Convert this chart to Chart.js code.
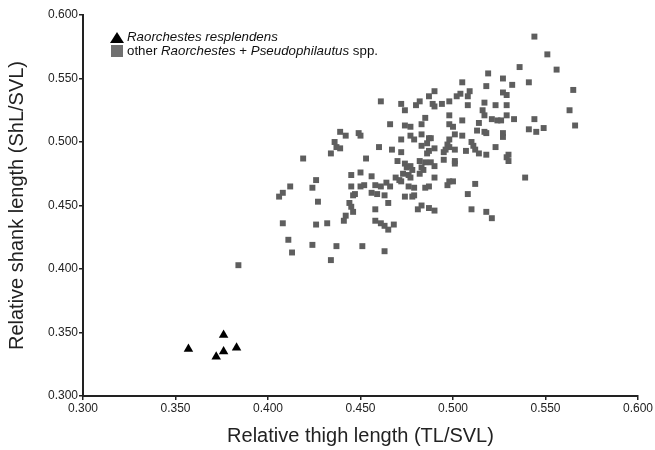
<!DOCTYPE html>
<html>
<head>
<meta charset="utf-8">
<script src="https://cdn.jsdelivr.net/npm/chart.js@4.4.0/dist/chart.umd.min.js"></script>
<style>
    html, body { margin: 0; padding: 0; background: #fff; }
    #wrap { position: relative; width: 655px; height: 450px; }
    #legend {
        position: absolute; left: 110px; top: 30px;
        font-family: 'Liberation Sans', Arial, sans-serif;
        font-size: 13.3px; color: #111; line-height: 14px;
    }
    .row { display: flex; align-items: center; white-space: nowrap; }
    .tri {
        width: 0; height: 0; margin-right: 3px;
        border-left: 7px solid transparent; border-right: 7px solid transparent;
        border-bottom: 11px solid #000;
    }
    .sq { width: 12px; height: 12px; background: #707070; margin-right: 4px; margin-left: 1px; }
    i { font-style: italic; }
</style>
</head>
<body>
<div id="wrap">
    <canvas id="scatterChart" width="655" height="450"></canvas>
    <div id="legend">
        <div class="row"><span class="tri"></span><i>Raorchestes resplendens</i></div>
        <div class="row"><span class="sq"></span>other&nbsp;<i>Raorchestes</i>&nbsp;+&nbsp;<i>Pseudophilautus</i>&nbsp;spp.</div>
    </div>
</div>
<script>
// Raorchestes resplendens
const thighTri = [0.357, 0.372, 0.376, 0.376, 0.383];
const shankTri = [0.337, 0.331, 0.335, 0.348, 0.338];

// other Raorchestes + Pseudophilautus spp.
const thighOther = [
    0.461,0.466,0.439,0.442,0.449,0.450,0.436,0.437,0.439,0.460,
    0.434,0.419,0.453,0.445,0.450,0.456,0.426,0.412,0.424,0.445,
    0.450,0.452,0.458,0.461,0.464,0.490,0.487,0.502,0.504,0.508,
    0.509,0.527,0.529,0.472,0.480,0.482,0.489,0.490,0.494,0.498,
    0.508,0.517,0.523,0.529,0.474,0.516,0.517,0.498,0.529,0.485,
    0.505,0.521,0.524,0.526,0.533,0.474,0.477,0.483,0.498,0.500,
    0.514,0.513,0.517,0.518,0.477,0.479,0.483,0.487,0.488,0.501,
    0.505,0.527,0.527,0.472,0.486,0.498,0.497,0.498,0.510,0.511,
    0.483,0.467,0.472,0.487,0.486,0.490,0.496,0.495,0.501,0.507,
    0.512,0.514,0.518,0.523,0.530,0.529,0.495,0.470,0.474,0.482,
    0.485,0.488,0.501,0.501,0.530,0.475,0.477,0.478,0.483,0.484,
    0.490,0.473,0.476,0.477,0.482,0.490,0.469,0.471,0.472,0.498,
    0.500,0.512,0.476,0.479,0.485,0.466,0.408,0.406,0.427,0.447,
    0.446,0.456,0.459,0.463,0.444,0.445,0.446,0.465,0.458,0.442,
    0.441,0.408,0.426,0.432,0.458,0.461,0.463,0.465,0.411,0.424,
    0.437,0.451,0.463,0.413,0.434,0.487,0.497,0.474,0.478,0.479,
    0.508,0.483,0.481,0.487,0.490,0.510,0.518,0.521,0.468,0.544,
    0.551,0.556,0.536,0.519,0.527,0.532,0.541,0.505,0.518,0.565,
    0.563,0.544,0.566,0.541,0.545,0.549,0.539,0.384
];
const shankOther = [
    0.532,0.514,0.508,0.505,0.507,0.505,0.500,0.496,0.495,0.496,
    0.491,0.487,0.487,0.474,0.476,0.473,0.470,0.465,0.464,0.465,
    0.465,0.466,0.466,0.465,0.468,0.540,0.536,0.536,0.538,0.536,
    0.540,0.539,0.537,0.530,0.529,0.532,0.530,0.528,0.530,0.532,
    0.529,0.531,0.529,0.529,0.525,0.525,0.521,0.521,0.521,0.519,
    0.517,0.518,0.517,0.517,0.518,0.513,0.512,0.514,0.514,0.512,
    0.515,0.509,0.508,0.507,0.505,0.502,0.506,0.503,0.503,0.506,
    0.505,0.507,0.504,0.502,0.499,0.502,0.498,0.496,0.500,0.497,
    0.497,0.494,0.492,0.493,0.491,0.495,0.494,0.492,0.494,0.493,
    0.494,0.491,0.490,0.496,0.490,0.488,0.486,0.485,0.483,0.485,
    0.484,0.484,0.485,0.483,0.485,0.480,0.481,0.478,0.480,0.478,
    0.481,0.475,0.474,0.472,0.475,0.472,0.472,0.470,0.469,0.469,
    0.469,0.467,0.465,0.464,0.464,0.465,0.460,0.457,0.453,0.459,
    0.458,0.460,0.459,0.458,0.452,0.449,0.445,0.452,0.447,0.442,
    0.438,0.436,0.435,0.436,0.438,0.436,0.434,0.431,0.423,0.419,
    0.418,0.418,0.414,0.413,0.407,0.465,0.466,0.457,0.457,0.458,
    0.459,0.450,0.447,0.448,0.446,0.447,0.445,0.440,0.435,0.583,
    0.569,0.557,0.559,0.554,0.550,0.545,0.547,0.547,0.544,0.541,
    0.525,0.518,0.513,0.510,0.508,0.511,0.472,0.403
];

const axisMin = 0.3;
const axisMax = 0.6;
const axisStep = 0.05;

const FONT = "'Liberation Sans', Arial, sans-serif";
const INK = '#222';

const triPoints = thighTri.map((x, i) => ({ x, y: shankTri[i] }));
const otherPoints = thighOther.map((x, i) => ({ x, y: shankOther[i] }));

function axisOptions(title, fit) {
    return {
        type: 'linear',
        min: axisMin,
        max: axisMax,
        ticks: {
            stepSize: axisStep,
            callback: v => Number(v).toFixed(3),
            color: INK,
            font: { family: FONT, size: 12 },
            padding: 1,
            maxRotation: 0,
            autoSkip: false
        },
        grid: {
            drawOnChartArea: false,
            drawTicks: true,
            tickLength: 4,
            color: INK,
            lineWidth: 1.5
        },
        border: { color: INK, width: 2 },
        title: {
            display: true,
            text: title,
            color: INK,
            font: { family: FONT, size: 20 },
            padding: { top: 5, bottom: 2 }
        },
        afterFit: fit
    };
}

new Chart(document.getElementById('scatterChart'), {
    type: 'scatter',
    data: {
        datasets: [
            {
                label: 'other Raorchestes + Pseudophilautus spp.',
                data: otherPoints,
                pointStyle: 'rect',
                pointRadius: 4.2,
                backgroundColor: '#5e5e5e',
                borderWidth: 0
            },
            {
                label: 'Raorchestes resplendens',
                data: triPoints,
                pointStyle: 'triangle',
                pointRadius: 5.5,
                backgroundColor: '#000',
                borderWidth: 0
            }
        ]
    },
    options: {
        responsive: false,
        animation: false,
        layout: { padding: { top: 15, right: 17, left: 0, bottom: 0 } },
        plugins: {
            legend: { display: false },
            tooltip: { enabled: false }
        },
        scales: {
            x: axisOptions('Relative thigh length (TL/SVL)', s => { s.height = 54; }),
            y: axisOptions('Relative shank length (ShL/SVL)', s => { s.width = 83; })
        }
    }
});
</script>
</body>
</html>
